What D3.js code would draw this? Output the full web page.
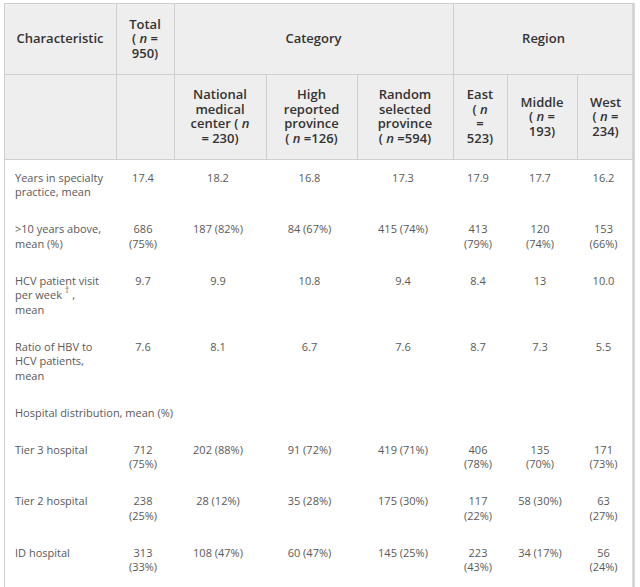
<!DOCTYPE html>
<html><head><meta charset="utf-8">
<script src="https://cdn.jsdelivr.net/npm/d3@7"></script>
<style>
html,body{margin:0;padding:0;background:#fff;}
svg{display:block;}
text{font-family:"Open Sans",sans-serif;white-space:pre;}
</style></head>
<body><svg id="t" width="640" height="587"></svg>
<script>
// ---- data ----
const columns = ["label","total","national","high","random","east","middle","west"];
const groupHeaders = [
  {text:["Characteristic"], from:"label", to:"label"},
  {text:["Total","( n =","950)"], from:"total", to:"total"},
  {text:["Category"], from:"national", to:"random"},
  {text:["Region"], from:"east", to:"west"}
];
const subHeaders = {
  label:[], total:[],
  national:["National","medical","center ( n","= 230)"],
  high:["High","reported","province","( n =126)"],
  random:["Random","selected","province","( n =594)"],
  east:["East","( n","=","523)"],
  middle:["Middle","( n =","193)"],
  west:["West","( n =","234)"]
};
const rowLabels = [
  ["Years in specialty","practice, mean"],
  [">10 years above,","mean (%)"],
  ["HCV patient visit","per week\u2020,","mean"],
  ["Ratio of HBV to","HCV patients,","mean"],
  ["Hospital distribution, mean (%)"],
  ["Tier 3 hospital"],
  ["Tier 2 hospital"],
  ["ID hospital"]
];
const yearsMean   = ["17.4","18.2","16.8","17.3","17.9","17.7","16.2"];
const over10Count = [686,187,84,415,413,120,153];
const over10Pct   = [75,82,67,74,79,74,66];
const hcvVisits   = ["9.7","9.9","10.8","9.4","8.4","13","10.0"];
const hbvRatio    = ["7.6","8.1","6.7","7.6","8.7","7.3","5.5"];
const tier3Count  = [712,202,91,419,406,135,171];
const tier3Pct    = [75,88,72,71,78,70,73];
const tier2Count  = [238,28,35,175,117,58,63];
const tier2Pct    = [25,12,28,30,22,30,27];
const idCount     = [313,108,60,145,223,34,56];
const idPct       = [33,47,47,25,43,17,24];

const fmtNP = (c,p)=>c.map((v,i)=>`${v} (${p[i]}%)`);
const rowValues = [
  yearsMean, fmtNP(over10Count,over10Pct), hcvVisits, hbvRatio,
  null, fmtNP(tier3Count,tier3Pct), fmtNP(tier2Count,tier2Pct), fmtNP(idCount,idPct)
];

// ---- layout ----
const edges = [4,116,174,266,357,453,507,577,634];
const xL = d3.scaleOrdinal().domain(columns).range(edges.slice(0,-1));
const xR = d3.scaleOrdinal().domain(columns).range(edges.slice(1));
const xC = c => (xL(c)+xR(c))/2;
const hdr1 = [3,74], hdr2=[74,159];
const lineH = 14.5, padT = 11.7, padB = 10.8, cellPad = 12;
const border = "#cfcfcf", hdrBg = "#eeeeee";

const svg = d3.select("#t");
const gHead = svg.append("g");
const gBody = svg.append("g");

gHead.append("rect").attr("x",edges[0]).attr("y",hdr1[0]).attr("width",edges[8]-edges[0]).attr("height",hdr2[1]-hdr1[0]).attr("fill",hdrBg);

function writeLines(g, lines, cx, cy, opts){
  const n = lines.length;
  lines.forEach((ln,i)=>{
    const t = g.append("text")
      .attr("x",cx).attr("y",cy + (i-(n-1)/2)*lineH).attr("dy","0.36em")
      .attr("text-anchor",opts.anchor||"middle")
      .attr("font-size",opts.size).attr("font-weight",opts.weight||400)
      .attr("fill",opts.color);
    const parts = ln.replace(/ /g,"\u00A0").split(/((?:^|\b)n(?=\u00A0|$)|\u2020)/);
    parts.forEach(p=>{
      if(p==="") return;
      if(p==="n") t.append("tspan").attr("font-style","italic").text("n");
      else if(p==="\u2020"){
        t.append("tspan").text("\u00A0");
        t.append("tspan").attr("font-size",9).attr("dy",-6).text("\u2020");
        t.append("tspan").attr("dy",6).text("\u00A0");
      }
      else t.append("tspan").text(p);
    });
  });
}

const hopts = {size:13, weight:600, color:"#333"};
groupHeaders.forEach(h=>{
  const cx = (xL(h.from)+xR(h.to))/2;
  writeLines(gHead, h.text, cx, (hdr1[0]+hdr1[1])/2, hopts);
});
columns.forEach(c=>{
  writeLines(gHead, subHeaders[c], xC(c), (hdr2[0]+hdr2[1])/2, hopts);
});

const hl = (g,x1,y1,x2,y2,w)=>g.append("line").attr("x1",x1).attr("y1",y1).attr("x2",x2).attr("y2",y2).attr("stroke",border).attr("stroke-width",w||1);
hl(gHead,edges[0],hdr1[0]+0.5,edges[8],hdr1[0]+0.5);
hl(gHead,edges[0],hdr1[1]+0.5,edges[8],hdr1[1]+0.5);
hl(gHead,edges[0],hdr2[1]+0.5,edges[8],hdr2[1]+0.5);
["total","national","east"].forEach(c=>hl(gHead,xL(c)+0.5,hdr1[0],xL(c)+0.5,hdr1[1]));
["total","national","high","random","east","middle","west"].forEach(c=>hl(gHead,xL(c)+0.5,hdr2[0],xL(c)+0.5,hdr2[1]));

const measurer = svg.append("text").attr("font-size",11).attr("visibility","hidden");
function wrap(str, width){
  const words = str.split(" ");
  const lines=[]; let cur="";
  words.forEach(w=>{
    const test = cur? cur+" "+w : w;
    measurer.text(test);
    if(cur && measurer.node().getComputedTextLength()>width){ lines.push(cur); cur=w; }
    else cur=test;
  });
  if(cur) lines.push(cur);
  return lines;
}
const bopts = {size:11, weight:400, color:"#595959"};
let y = hdr2[1];
rowLabels.forEach((lab,r)=>{
  const vals = rowValues[r];
  const cellLines = vals ? vals.map((v,i)=>{const c=columns[i+1]; return wrap(v, xR(c)-xL(c)-2*cellPad);}) : [];
  const nLines = Math.max(lab.length, ...cellLines.map(l=>l.length));
  const top = y + padT + lineH/2;
  writeLines(gBody, lab, 15, top + (lab.length-1)/2*lineH, Object.assign({anchor:"start"},bopts));
  cellLines.forEach((ls,i)=>{
    writeLines(gBody, ls, xC(columns[i+1])-2, top + (ls.length-1)/2*lineH, bopts);
  });
  y += padT + nLines*lineH + padB;
});
measurer.remove();
hl(gBody,edges[0]+0.5,hdr1[0],edges[0]+0.5,587);
hl(gBody,edges[8]-0.5,hdr1[0],edges[8]-0.5,587,2.5);
</script></body></html>
